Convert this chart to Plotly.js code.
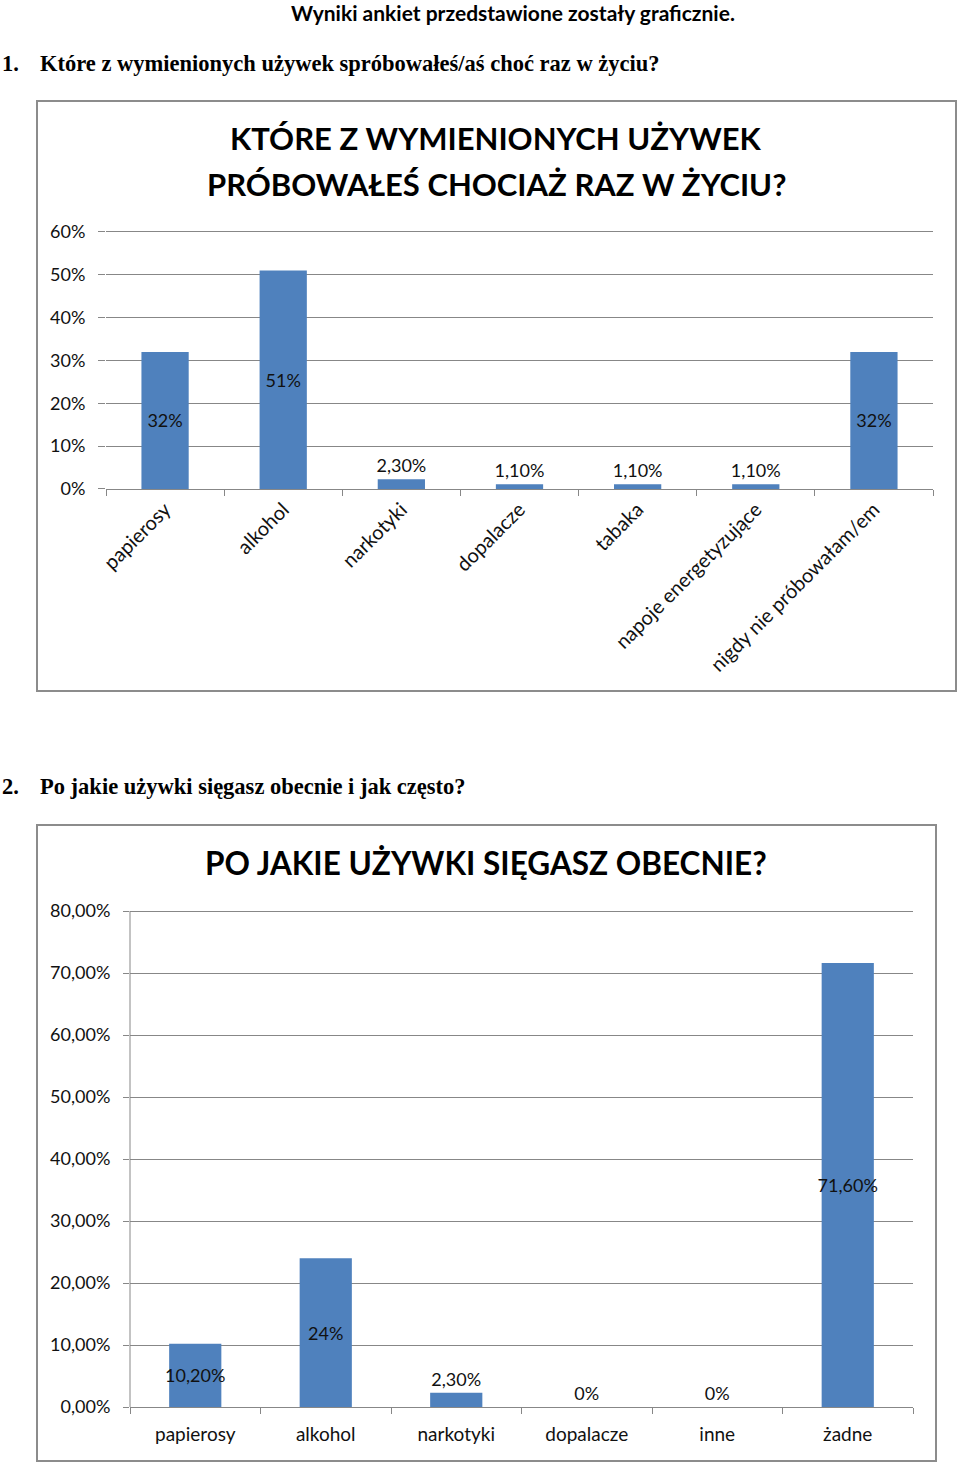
<!DOCTYPE html>
<html><head><meta charset="utf-8">
<script src="https://cdn.plot.ly/plotly-3.0.1.min.js"></script>
<style>html,body{margin:0;padding:0;background:#fff}#c{width:960px;height:1464px}</style>
</head><body><div id="c"></div>
<script>
const cats1 = ['papierosy','alkohol','narkotyki','dopalacze','tabaka','napoje energetyzujące','nigdy nie próbowałam/em'];
const vals1 = [32, 51, 2.3, 1.1, 1.1, 1.1, 32];
const cats2 = ['papierosy','alkohol','narkotyki','dopalacze','inne','żadne'];
const vals2 = [10.2, 24, 2.3, 0, 0, 71.6];
const ticks1 = [0,10,20,30,40,50,60];
const ticks2 = [0,10,20,30,40,50,60,70,80];

const W = 960, H = 1464;
const px = x => x / W, py = y => 1 - y / H;
const fmt = v => Number.isInteger(v) ? v + '%' : v.toFixed(2).replace('.', ',') + '%';
const BLUE = '#4F81BD', GRID = '#878787';
const SANS = 'Lato, "Open Sans", sans-serif';
const SERIF = '"Liberation Serif", "Times New Roman", serif';

// chart 1: 0% at y=489px, 60% at y=232px
const Y1MAX = 61, Y1TOP = 489 - Y1MAX * (257 / 60);
// chart 2: 0% at y=1407px, 80% at y=911px
const Y2MAX = 81, Y2TOP = 1407 - Y2MAX * (496 / 80);

function barTrace(cats, vals, xa, ya) {
  return {
    type: 'bar', x: cats, y: vals, xaxis: xa, yaxis: ya,
    marker: {color: BLUE},
    text: vals.map(fmt),
    textposition: vals.map(v => v > 5 ? 'inside' : 'outside'),
    insidetextanchor: 'middle',
    constraintext: 'none',
    textangle: 0,
    cliponaxis: false,
    textfont: {family: SANS, size: 18, color: '#111'},
    hoverinfo: 'none'
  };
}

const data = [barTrace(cats1, vals1, 'x', 'y'), barTrace(cats2, vals2, 'x2', 'y2')];

const layout = {
  width: W, height: H,
  margin: {l: 0, r: 0, t: 0, b: 0},
  paper_bgcolor: '#fff', plot_bgcolor: 'rgba(0,0,0,0)',
  showlegend: false, bargap: 0.6,
  separators: ', ',
  font: {family: SANS, color: '#111'},
  xaxis: {
    domain: [px(106), px(933)], anchor: 'y',
    showline: true, linecolor: GRID, linewidth: 1,
    ticks: 'outside', tickson: 'boundaries', ticklen: 6, tickcolor: GRID,
    tickangle: -45, tickfont: {family: SANS, size: 20, color: '#111'},
    showgrid: false, zeroline: false, fixedrange: true
  },
  yaxis: {
    domain: [py(489), py(Y1TOP)], anchor: 'x', range: [0, Y1MAX],
    tickmode: 'array', tickvals: ticks1, ticktext: ticks1.map(v => v + '%'),
    ticks: 'outside', ticklen: 7, tickcolor: GRID, ticklabelstandoff: 9,
    showgrid: true, gridcolor: GRID, gridwidth: 1,
    showline: false, zeroline: false,
    tickfont: {family: SANS, size: 18, color: '#111'}, fixedrange: true
  },
  xaxis2: {
    domain: [px(130), px(913)], anchor: 'y2',
    showline: true, linecolor: GRID, linewidth: 1,
    ticks: 'outside', tickson: 'boundaries', ticklen: 6, tickcolor: GRID,
    tickangle: 0, tickfont: {family: SANS, size: 19, color: '#111'},
    ticklabelstandoff: 10,
    showgrid: false, zeroline: false, fixedrange: true
  },
  yaxis2: {
    domain: [py(1407), py(Y2TOP)], anchor: 'x2', range: [0, Y2MAX],
    tickmode: 'array', tickvals: ticks2, ticktext: ticks2.map(v => v.toFixed(2).replace('.', ',') + '%'),
    ticks: 'outside', ticklen: 6, tickcolor: GRID, ticklabelstandoff: 9,
    showgrid: true, gridcolor: GRID, gridwidth: 1,
    showline: false, zeroline: false,
    tickfont: {family: SANS, size: 18, color: '#111'}, fixedrange: true
  },
  shapes: [
    {type: 'rect', xref: 'paper', yref: 'paper', x0: px(37), x1: px(956), y0: py(691), y1: py(101),
     line: {color: '#8c8c8c', width: 2}},
    {type: 'rect', xref: 'paper', yref: 'paper', x0: px(37), x1: px(936), y0: py(1461), y1: py(825),
     line: {color: '#8c8c8c', width: 2}},
    // chart 2 value-axis line, from 0% to 80%
    {type: 'line', xref: 'x2 domain', yref: 'y2', x0: 0, x1: 0, y0: 0, y1: 80,
     line: {color: GRID, width: 1}}
  ],
  annotations: [
    {xref: 'paper', yref: 'paper', x: px(513), y: py(12), xanchor: 'center', yanchor: 'middle', showarrow: false,
     text: '<b>Wyniki ankiet przedstawione zostały graficznie.</b>', font: {family: SANS, size: 21, color: '#000'}},
    {xref: 'paper', yref: 'paper', x: px(0), y: py(63), xanchor: 'left', yanchor: 'middle', showarrow: false,
     text: '<b>1.</b>', font: {family: SERIF, size: 22.5, color: '#000'}},
    {xref: 'paper', yref: 'paper', x: px(38), y: py(63), xanchor: 'left', yanchor: 'middle', showarrow: false,
     text: '<b>Które z wymienionych używek spróbowałeś/aś choć raz w życiu?</b>', font: {family: SERIF, size: 22.5, color: '#000'}},
    {xref: 'paper', yref: 'paper', x: px(0), y: py(786), xanchor: 'left', yanchor: 'middle', showarrow: false,
     text: '<b>2.</b>', font: {family: SERIF, size: 22.5, color: '#000'}},
    {xref: 'paper', yref: 'paper', x: px(38), y: py(786), xanchor: 'left', yanchor: 'middle', showarrow: false,
     text: '<b>Po jakie używki sięgasz obecnie i jak często?</b>', font: {family: SERIF, size: 22.5, color: '#000'}},
    {xref: 'paper', yref: 'paper', x: px(496), y: py(138), xanchor: 'center', yanchor: 'middle', showarrow: false,
     text: '<b>KTÓRE Z WYMIENIONYCH UŻYWEK</b>', font: {family: SANS, size: 31, color: '#000'}},
    {xref: 'paper', yref: 'paper', x: px(496), y: py(184), xanchor: 'center', yanchor: 'middle', showarrow: false,
     text: '<b>PRÓBOWAŁEŚ CHOCIAŻ RAZ W ŻYCIU?</b>', font: {family: SANS, size: 31, color: '#000'}},
    {xref: 'paper', yref: 'paper', x: px(486), y: py(863), xanchor: 'center', yanchor: 'middle', showarrow: false,
     text: '<b>PO JAKIE UŻYWKI SIĘGASZ OBECNIE?</b>', font: {family: SANS, size: 31.5, color: '#000'}}
  ]
};

Plotly.newPlot('c', data, layout, {staticPlot: true, displayModeBar: false});
</script></body></html>
